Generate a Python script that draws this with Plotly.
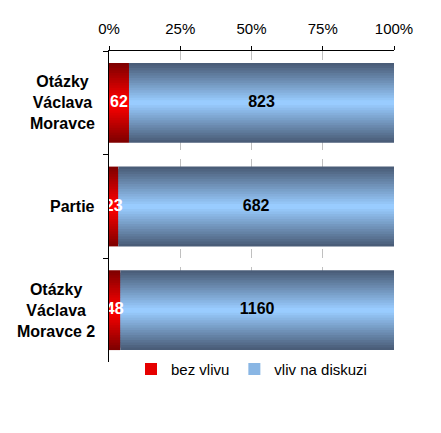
import plotly.graph_objects as go

# data
categories = ["Otázky<br>Václava<br>Moravce", "Partie", "Otázky<br>Václava<br>Moravce 2"]
bez_vlivu = [62, 23, 48]
vliv_na_diskuzi = [823, 682, 1160]
series_names = ["bez vlivu", "vliv na diskuzi"]
tick_values = [0, 25, 50, 75, 100]
tick_labels = ["0%", "25%", "50%", "75%", "100%"]

FONT = "Arial, Liberation Sans, sans-serif"

totals = [a + b for a, b in zip(bez_vlivu, vliv_na_diskuzi)]
pct_red = [100.0 * a / t for a, t in zip(bez_vlivu, totals)]
pct_blue = [100.0 * b / t for b, t in zip(vliv_na_diskuzi, totals)]


def mix(c1, c2, t):
    return "rgb({},{},{})".format(*[int(round(a + (b - a) * t)) for a, b in zip(c1, c2)])


fig = go.Figure()

# fake a vertical gradient by stacking narrower, lighter copies of each bar
n_layers = 16
bar_width = 0.77
red_edge, red_mid = (128, 0, 0), (255, 0, 0)
blue_edge, blue_mid = (74, 93, 120), (153, 204, 255)
for k in range(n_layers):
    t = k / (n_layers - 1)
    w = bar_width * (1 - k / n_layers)
    show = k == n_layers - 4
    fig.add_trace(go.Bar(
        y=categories, x=pct_red, base=[0] * len(categories), orientation="h",
        width=w, marker=dict(color=mix(red_edge, red_mid, t), line_width=0),
        name=series_names[0], showlegend=show, legendrank=1, hoverinfo="skip",
    ))
    fig.add_trace(go.Bar(
        y=categories, x=pct_blue, base=pct_red, orientation="h",
        width=w, marker=dict(color=mix(blue_edge, blue_mid, t), line_width=0),
        name=series_names[1], showlegend=show, legendrank=2, hoverinfo="skip",
    ))

# value labels in the middle of each segment
fig.add_trace(go.Scatter(
    y=categories, x=[p / 2 for p in pct_red], mode="text",
    text=[str(v) for v in bez_vlivu],
    textfont=dict(family=FONT, size=16, color="white", weight="bold"),
    showlegend=False, hoverinfo="skip",
))
fig.add_trace(go.Scatter(
    y=categories, x=[r + b / 2 for r, b in zip(pct_red, pct_blue)], mode="text",
    text=[str(v) for v in vliv_na_diskuzi],
    textfont=dict(family=FONT, size=16, color="black", weight="bold"),
    showlegend=False, hoverinfo="skip",
))

# category labels, centred lines like the original
for cat in categories:
    fig.add_annotation(
        x=0, xref="paper", y=cat, yref="y", xanchor="right", xshift=-12,
        text=cat, align="center", showarrow=False,
        font=dict(family=FONT, size=16, color="black", weight="bold"),
    )

# page body has an 8px margin, so the figure is sized to fit inside it
fig.update_layout(
    barmode="overlay",
    width=425, height=417,
    margin=dict(l=101, r=39, t=43, b=63),
    paper_bgcolor="white", plot_bgcolor="white",
    font=dict(family=FONT, size=15, color="black"),
    legend=dict(
        orientation="h", x=0.5, xanchor="center", y=0.03, yanchor="top",
        font=dict(family=FONT, size=15), traceorder="normal",
    ),
    xaxis=dict(
        side="top", range=[0, 100], tickvals=tick_values, ticktext=tick_labels,
        showline=True, linecolor="black", linewidth=1,
        ticks="outside", ticklen=4, tickcolor="black", ticklabelstandoff=6,
        showgrid=True, gridcolor="#c0c0c0", griddash="dash", gridwidth=1,
        zeroline=False, fixedrange=True,
    ),
    yaxis=dict(
        type="category", range=[2.5, -0.5], showticklabels=False,
        showline=True, linecolor="black", linewidth=1,
        ticks="outside", tickson="boundaries", ticklen=5, tickcolor="black",
        showgrid=False, zeroline=False, fixedrange=True,
    ),
)

fig.write_html("out.html")
